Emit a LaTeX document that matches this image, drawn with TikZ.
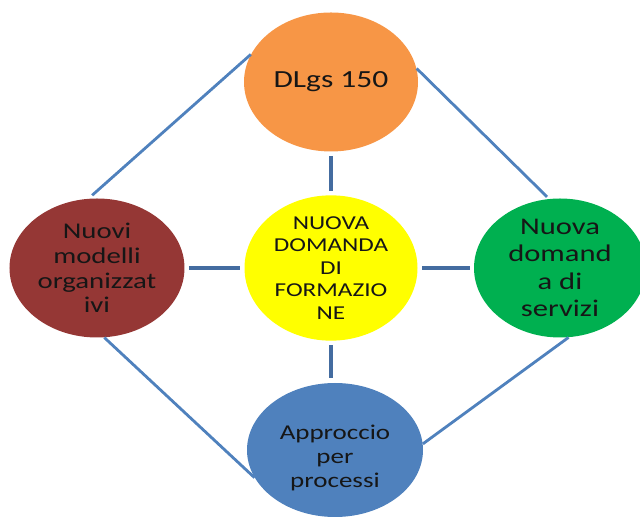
\documentclass[tikz,border=0pt]{standalone}
\usepackage{fontspec}
\setmainfont{Carlito}[FakeStretch=1.28]
\usepackage{tikz}
\usetikzlibrary{shapes.geometric}
\definecolor{dlgsorange}{RGB}{247,150,70}
\definecolor{modellired}{RGB}{149,55,53}
\definecolor{domandayellow}{RGB}{255,255,0}
\definecolor{servizigreen}{RGB}{0,176,80}
\definecolor{processiblue}{RGB}{79,129,189}
\definecolor{linkblue}{RGB}{79,129,189}
\definecolor{stubblue}{RGB}{68,108,160}
\definecolor{textdark}{RGB}{22,22,22}
\tikzstyle{bubble} = [ellipse, draw=none, inner sep=0pt, align=center, text=textdark, minimum width=4.35cm, minimum height=3.45cm]
\tikzstyle{stub_line} = [stubblue, line width=3.5pt, shorten <=3pt, shorten >=3pt]
\tikzstyle{link_line} = [linkblue, line width=2pt]

\begin{document}
\begin{tikzpicture}[node distance=4.6cm]
				\clip (-8.275,-6.275) rectangle (7.725,6.7);
				\node[bubble, fill=domandayellow, minimum width=4.325cm, minimum height=3.425cm, font=\fontsize{14}{16}\selectfont](domanda){NUOVA\\DOMANDA\\DI\\FORMAZIO\\NE};
				\node[bubble, fill=dlgsorange, above of=domanda, yshift=.05cm, minimum height=3.475cm, font=\fontsize{17.5}{19}\selectfont](dlgs){DLgs 150};
				\node[bubble, fill=modellired, left of=domanda, xshift=-1.25cm, minimum width=4.375cm, minimum height=3.475cm, font=\fontsize{16}{17.5}\selectfont](modelli){Nuovi\\modelli\\organizzat\\ivi};
				\node[bubble, fill=servizigreen, right of=domanda, xshift=1.125cm, minimum width=4.3cm, minimum height=3.475cm, font=\fontsize{17}{19.5}\selectfont](servizi){Nuova\\domand\\a di\\servizi};
				\node[bubble, fill=processiblue, below of=domanda, yshift=.05cm, xshift=.1cm, minimum width=4.4cm, minimum height=3.35cm](processi){};
				\node[text=textdark, align=center, yshift=-.2cm, font=\fontsize{15}{17}\selectfont] (processi_text) at (processi) {Approccio\\per\\processi};
				
				% draw lines
				\draw[stub_line] (dlgs.south) -- (domanda.north);
				\draw[stub_line] (modelli.east) -- (domanda.west);
				\draw[stub_line] (domanda.east) -- (servizi.west);
				\draw[stub_line] (domanda.south) -- (domanda.south |- processi.north);
				\draw[link_line, shorten >=3.5pt] (dlgs.161) -- (modelli.97);
				\draw[link_line, shorten >=2pt] (dlgs.9.5) -- (servizi.99.5);
				\draw[link_line] (modelli.276.6) -- (processi.199);
				\draw[link_line] (servizi.277.5) -- (processi.4.5);
			\end{tikzpicture}
\end{document}
